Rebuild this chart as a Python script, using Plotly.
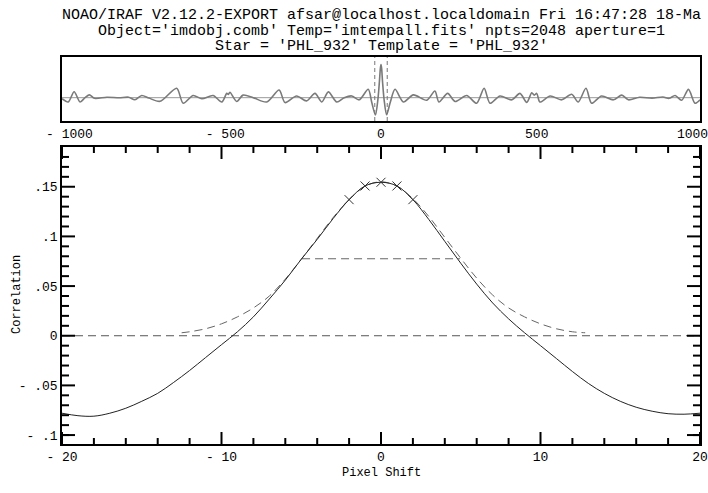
import plotly.graph_objects as go

# ---------------- data ----------------
title_lines = [
    "NOAO/IRAF V2.12.2-EXPORT afsar@localhost.localdomain Fri 16:47:28 18-Ma",
    "Object='imdobj.comb' Temp='imtempall.fits' npts=2048 aperture=1",
    "Star = 'PHL_932' Template = 'PHL_932'",
]

# main panel: correlation vs pixel shift
main_lag = list(range(-20, 21))
main_corr = [
    -0.078, -0.0805, -0.081, -0.078, -0.073, -0.066, -0.058, -0.047, -0.035, -0.022,
    -0.009, 0.004, 0.019, 0.037, 0.056, 0.077, 0.097, 0.118, 0.137, 0.1508,
    0.1545,
    0.1508, 0.137, 0.117, 0.095, 0.073, 0.052, 0.033, 0.017, 0.003, -0.010,
    -0.023, -0.036, -0.048, -0.058, -0.066, -0.072, -0.076, -0.0785, -0.079, -0.078,
]

# points used in the peak fit
peak_lag = [-2, -1, 0, 1, 2]
peak_corr = [0.137, 0.1508, 0.1545, 0.1508, 0.137]

# fitted gaussian (dashed)
fit_lag = [-12.5, -12, -11, -10, -9, -8, -7, -6, -5, -4, -3, -2, -1, 0,
           1, 2, 3, 4, 5, 6, 7, 8, 9, 10, 11, 12, 12.8]
fit_corr = [0.003, 0.004, 0.007, 0.012, 0.019, 0.028, 0.040, 0.057, 0.077, 0.098,
            0.119, 0.137, 0.1505, 0.155, 0.1505, 0.138, 0.120, 0.099, 0.078, 0.058,
            0.041, 0.028, 0.019, 0.012, 0.007, 0.004, 0.003]

# half-maximum (FWHM) marker
fwhm_lag = [-4.95, 4.95]
half_max = [0.0775, 0.0775]

# zero level
zero_lag = [-20, 20]
zero_corr = [0, 0]

# top panel: full correlation function
top_lag = [-1024, -1004, -985, -966, -950, -936, -920, -880, -840, -810, -790, -768,
           -745, -709, -656, -635, -603, -575, -539, -511, -495, -490, -485, -463,
           -443, -410, -367, -327, -308, -271, -239, -212, -190, -169, -142, -118,
           -94, -70, -41, -30, -18, -10, -5, -2, 0, 2, 5, 10, 18, 30, 45, 72, 104,
           147, 173, 186, 214, 238, 275, 307, 331, 350, 382, 420, 446, 468, 484, 492,
           500, 510, 543, 580, 612, 633, 658, 676, 708, 746, 773, 794, 830, 870, 905,
           925, 944, 965, 987, 1008, 1024]
top_corr = [-0.005, -0.020, 0.028, -0.020, 0.000, 0.013, -0.003, 0.002, 0.000, 0.002,
            -0.010, 0.010, -0.002, -0.017, 0.044, -0.026, 0.010, -0.005, 0.010, -0.020,
            0.020, 0.015, 0.025, -0.018, 0.012, 0.000, -0.020, 0.036, -0.023, 0.008,
            -0.015, 0.020, -0.020, 0.027, -0.020, 0.000, 0.008, -0.010, 0.039, -0.020,
            -0.081, -0.009, 0.077, 0.137, 0.1545, 0.137, 0.073, -0.010, -0.080, -0.020,
            0.039, -0.020, 0.013, -0.012, 0.031, -0.020, 0.020, -0.018, 0.010, -0.026,
            0.044, -0.026, 0.008, -0.010, 0.020, -0.022, 0.023, 0.012, 0.020, -0.020,
            0.008, -0.010, 0.016, -0.020, 0.044, -0.026, 0.008, -0.010, 0.012, -0.010,
            0.002, -0.002, 0.003, -0.003, 0.010, -0.012, 0.039, -0.026, -0.010]
top_range = [-1024, 1024]
window_lags = [-20, 20]

# ticks and labels
lag_range = [-20, 20]
corr_range = [-0.109, 0.19]
main_x_ticks = [-20, -10, 0, 10, 20]
main_x_labels = ["- 20", "- 10", "0", "10", "20"]
main_x_minor = [-18, -16, -14, -12, -8, -6, -4, -2, 2, 4, 6, 8, 12, 14, 16, 18]
main_y_ticks = [0.15, 0.1, 0.05, 0, -0.05, -0.1]
main_y_labels = [".15", ".1", ".05", "0", "- .05", "- .1"]
main_y_minor = [-0.1, -0.09, -0.08, -0.07, -0.06, -0.04, -0.03, -0.02, -0.01,
                0.01, 0.02, 0.03, 0.04, 0.06, 0.07, 0.08, 0.09,
                0.11, 0.12, 0.13, 0.14, 0.16, 0.17, 0.18]
top_x_ticks = [-1000, -500, 0, 500, 1000]
top_x_labels = ["- 1000", "- 500", "0", "500", "1000"]

# ---------------- figure ----------------
FONT = "Liberation Mono"
INK = "#000000"
W, H = 708, 493
M = dict(l=62, r=8, t=57, b=49)
main_dom = [0, 0.7674]
top_dom = [0.8346, 1]

fig = go.Figure()

# top panel
fig.add_trace(go.Scatter(x=top_range, y=[0, 0], xaxis="x2", yaxis="y2", mode="lines",
                         line=dict(color="#9a9a9a", width=1), hoverinfo="skip"))
fig.add_trace(go.Scatter(x=top_lag, y=top_corr, xaxis="x2", yaxis="y2", mode="lines",
                         line=dict(color="#7a7a7a", width=1.6, shape="spline", smoothing=0.8),
                         hoverinfo="skip"))
for wl in window_lags:
    fig.add_trace(go.Scatter(x=[wl, wl], y=corr_range, xaxis="x2", yaxis="y2", mode="lines",
                             line=dict(color="#777", width=1, dash="4px,3px"), hoverinfo="skip"))

# main panel
fig.add_trace(go.Scatter(x=zero_lag, y=zero_corr, mode="lines",
                         line=dict(color="#555", width=1, dash="8px,5px")))
fig.add_trace(go.Scatter(x=fwhm_lag, y=half_max, mode="lines",
                         line=dict(color="#666", width=1, dash="8px,5px")))
fig.add_trace(go.Scatter(x=fit_lag, y=fit_corr, mode="lines",
                         line=dict(color="#666", width=1, dash="8px,5px", shape="spline")))
fig.add_trace(go.Scatter(x=main_lag, y=main_corr, mode="lines",
                         line=dict(color="#222", width=1, shape="spline")))
fig.add_trace(go.Scatter(x=peak_lag, y=peak_corr, mode="markers",
                         marker=dict(symbol="x-thin-open", size=9, color="#333",
                                     line=dict(color="#333", width=1))))

# inward tick marks on all four sides of the main panel, placed through the axes' scales
plot_w = W - M["l"] - M["r"]
plot_h = (H - M["t"] - M["b"]) * (main_dom[1] - main_dom[0])
x_per_px = (lag_range[1] - lag_range[0]) / plot_w
y_per_px = (corr_range[1] - corr_range[0]) / plot_h
tx, ty = [], []
for vals, length in ((main_x_ticks, 12), (main_x_minor, 6)):
    d = length * y_per_px
    for v in vals:
        tx += [v, v, None, v, v, None]
        ty += [corr_range[0], corr_range[0] + d, None, corr_range[1], corr_range[1] - d, None]
for vals, length in ((main_y_ticks, 13), (main_y_minor, 7)):
    d = length * x_per_px
    for v in vals:
        tx += [lag_range[0], lag_range[0] + d, None, lag_range[1], lag_range[1] - d, None]
        ty += [v, v, None, v, v, None]
fig.add_trace(go.Scatter(x=tx, y=ty, mode="lines", connectgaps=False,
                         line=dict(color=INK, width=2), hoverinfo="skip"))

axis_common = dict(showline=True, linecolor=INK, linewidth=1.5, mirror=True,
                   showgrid=False, zeroline=False, ticks="", automargin=False,
                   ticklabeloverflow="allow",
                   tickfont=dict(family=FONT, size=13, color=INK))

fig.update_layout(
    width=W, height=H,
    margin=M,
    paper_bgcolor="white", plot_bgcolor="white",
    showlegend=False,
    font=dict(family=FONT, size=13, color=INK),
    xaxis=dict(domain=[0, 1], range=lag_range, anchor="y",
               tickmode="array", tickvals=main_x_ticks, ticktext=main_x_labels,
               **axis_common),
    yaxis=dict(domain=main_dom, range=corr_range, anchor="x",
               tickmode="array", tickvals=main_y_ticks, ticktext=main_y_labels,
               **axis_common),
    xaxis2=dict(domain=[0, 1], range=top_range, anchor="y2",
                tickmode="array", tickvals=top_x_ticks, ticktext=top_x_labels,
                **axis_common),
    yaxis2=dict(domain=top_dom, range=corr_range, anchor="x2",
                showticklabels=False, **axis_common),
)

# title lines
title_y = [1.107, 1.066, 1.027]
for txt, yy in zip(title_lines, title_y):
    fig.add_annotation(text=txt, xref="paper", yref="paper", x=0.5, y=yy,
                       xanchor="center", yanchor="middle", showarrow=False,
                       font=dict(family=FONT, size=15, color=INK))

fig.add_annotation(text="Pixel Shift", xref="paper", yref="paper", x=0.5, y=-0.0749,
                   xanchor="center", yanchor="middle", showarrow=False,
                   font=dict(family=FONT, size=12, color=INK))
fig.add_annotation(text="Correlation", xref="paper", yref="paper", x=-0.0705, y=0.385,
                   xanchor="center", yanchor="middle", showarrow=False, textangle=-90,
                   font=dict(family=FONT, size=12, color=INK))

fig.write_html("out.html", config={"displayModeBar": False},
               post_script="document.body.style.margin='0px';")
